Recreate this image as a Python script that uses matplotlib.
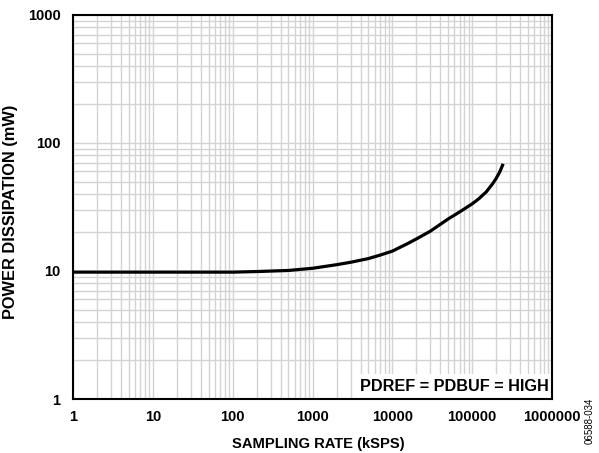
import matplotlib
matplotlib.use("Agg")
import matplotlib.pyplot as plt
from matplotlib.ticker import LogLocator, NullFormatter, FixedLocator

plt.rcParams['font.family'] = ['Liberation Sans', 'DejaVu Sans']

# values
rate_ksps = [1, 10, 100, 200, 500, 1000, 2000, 3000, 5000, 7000, 10000, 15000,
             20000, 30000, 50000, 70000, 100000, 120000, 150000, 180000,
             200000, 220000, 240000]
power_mw = [9.8, 9.8, 9.8, 9.9, 10.1, 10.5, 11.2, 11.7, 12.5, 13.3, 14.3, 16.2,
            17.8, 20.5, 25.5, 29.0, 33.5, 36.5, 41.5, 48.0, 53.0, 59.0, 67.0]

x_ticks = [1, 10, 100, 1000, 10000, 100000, 1000000]
y_ticks = [1, 10, 100, 1000]

fig = plt.figure(figsize=(5.99, 4.53), dpi=100)
ax = fig.add_axes([0.1219, 0.1192, 0.7997, 0.8477])

ax.set_xscale('log')
ax.set_yscale('log')
ax.set_xlim(1, 1000000)
ax.set_ylim(1, 1000)

ax.plot(rate_ksps, power_mw, color='black', linewidth=2.3,
        solid_joinstyle='round', zorder=3)

ax.xaxis.set_major_locator(FixedLocator(x_ticks))
ax.yaxis.set_major_locator(FixedLocator(y_ticks))
ax.xaxis.set_minor_locator(LogLocator(base=10, subs=range(2, 10), numticks=20))
ax.yaxis.set_minor_locator(LogLocator(base=10, subs=range(2, 10), numticks=20))
ax.xaxis.set_minor_formatter(NullFormatter())
ax.yaxis.set_minor_formatter(NullFormatter())
ax.set_xticklabels([str(v) for v in x_ticks])
ax.set_yticklabels([str(v) for v in y_ticks])

ax.grid(True, which='both', color='#d3d3d3', linewidth=1.0)
ax.tick_params(which='both', length=0)
ax.tick_params(axis='x', pad=8)
ax.tick_params(axis='y', pad=9)
for lab in ax.get_xticklabels() + ax.get_yticklabels():
    lab.set_fontweight('bold')
    lab.set_fontsize(10.5)

for sp in ax.spines.values():
    sp.set_linewidth(1.5)
    sp.set_zorder(6)

ax.set_xlabel('SAMPLING RATE (kSPS)', fontsize=10.6, fontweight='bold')
ax.xaxis.set_label_coords(0.513, -0.098)
ax.set_ylabel('POWER DISSIPATION (mW)', fontsize=11.8, fontweight='bold')
ax.yaxis.set_label_coords(-0.115, 0.487)

ax.text(0.994, 0.014, 'PDREF = PDBUF = HIGH', transform=ax.transAxes,
        ha='right', va='bottom', fontsize=11.7, fontweight='bold', zorder=5,
        bbox=dict(boxstyle='square,pad=0.3', facecolor='white',
                  edgecolor='none'))

fig.text(0.985, 0.07, '06588-034', rotation=90, fontsize=7,
         ha='center', va='center')

fig.savefig('out.png', dpi=100)
